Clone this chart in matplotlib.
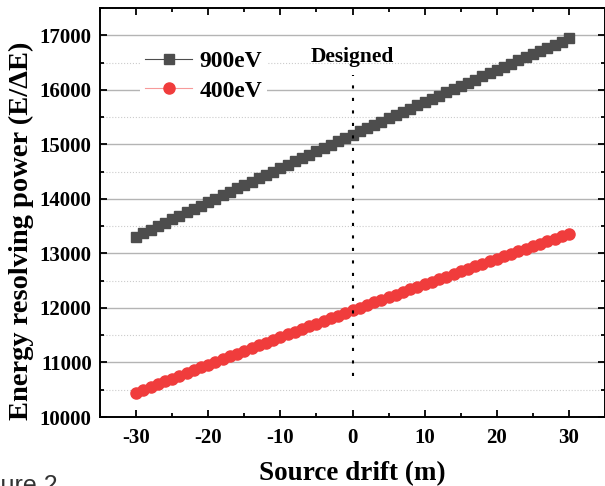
import matplotlib
matplotlib.use("Agg")
import matplotlib.pyplot as plt
from matplotlib.ticker import MultipleLocator

plt.rcParams['font.family'] = ['Liberation Serif', 'DejaVu Serif']
plt.rcParams['font.weight'] = 'bold'
plt.rcParams['axes.unicode_minus'] = False

drift = list(range(-30, 31))

power_900 = [13305, 13369, 13433, 13497, 13560, 13624, 13687, 13751, 13814, 13877,
             13940, 14003, 14065, 14128, 14191, 14253, 14315, 14377, 14439, 14501,
             14563, 14625, 14687, 14748, 14809, 14871, 14932, 14993, 15054, 15114,
             15175, 15236, 15296, 15356, 15417, 15477, 15537, 15596, 15656, 15716,
             15775, 15835, 15894, 15953, 16012, 16071, 16130, 16188, 16247, 16306,
             16364, 16422, 16480, 16538, 16596, 16654, 16711, 16769, 16826, 16884,
             16941]

power_400 = [10445, 10497, 10549, 10601, 10653, 10704, 10756, 10807, 10859, 10910,
             10961, 11012, 11062, 11113, 11163, 11214, 11264, 11314, 11364, 11414,
             11464, 11514, 11563, 11613, 11662, 11711, 11760, 11809, 11858, 11906,
             11955, 12003, 12052, 12100, 12148, 12196, 12244, 12292, 12339, 12387,
             12434, 12481, 12528, 12575, 12622, 12669, 12715, 12762, 12808, 12855,
             12901, 12947, 12993, 13038, 13084, 13129, 13175, 13220, 13265, 13310,
             13355]

labels = ['900eV', '400eV']
designed_x = 0
designed_span = (10750, 16280)

fig = plt.figure(figsize=(6.05, 4.86), dpi=100)
ax = fig.add_axes([100 / 605, 1 - 417 / 486, 505 / 605, 409 / 486])

ax.plot(drift, power_900, '-s', color='#4d4d4d', lw=0.8, ms=7, mec='#4d4d4d',
        label=labels[0], zorder=3)
# 400eV: light red line under red dots
ax.plot(drift, power_400, '-o', color='#f79a9a', mfc='#f03c3c', mec='#f03c3c',
        lw=0.8, ms=8, label=labels[1], zorder=3)

ax.vlines(designed_x, *designed_span, colors='black', lw=1.5,
          linestyles=(0, (1.5, 4.5)), zorder=4)
ax.text(designed_x, 16600, 'Designed', ha='center', va='center', fontsize=15.5,
        fontweight='bold')

ax.set_xlim(-35, 35)
ax.set_ylim(10000, 17500)
ax.xaxis.set_major_locator(MultipleLocator(10))
ax.xaxis.set_minor_locator(MultipleLocator(5))
ax.yaxis.set_minor_locator(MultipleLocator(500))
ax.set_yticks([10000, 11000, 12000, 13000, 14000, 15000, 16000, 17000])

ax.grid(axis='y', which='major', color='#b4b4b4', lw=1.0, zorder=0)
ax.grid(axis='y', which='minor', color='#cccccc', lw=0.8, ls=':', zorder=0)
ax.set_axisbelow(True)

ax.tick_params(which='both', direction='in', top=True, right=True, width=1.3,
               labelsize=15)
ax.tick_params(axis='x', pad=8)
ax.tick_params(axis='y', pad=6)
ax.tick_params(which='major', length=5)
ax.tick_params(which='minor', length=3)
for s in ax.spines.values():
    s.set_linewidth(1.4)

ax.set_xlabel('Source drift (m)', fontsize=19.5, fontweight='bold')
ax.xaxis.set_label_coords(0.5, -0.107)
ax.set_ylabel('Energy resolving power (E/ΔE)', fontsize=20.5, fontweight='bold')
ax.yaxis.set_label_coords(-0.131, 0.455)

leg = ax.legend(loc='upper left', bbox_to_anchor=(0.08, 0.908), borderaxespad=0,
                frameon=True, fontsize=17, handlelength=2.0, labelspacing=0.35,
                handletextpad=0.3, borderpad=0.2)
leg.get_frame().set_edgecolor('none')
leg.get_frame().set_facecolor('white')
leg.get_frame().set_alpha(1)

fig.text(58 / 605, 1 - 474 / 486, 'Figure 2', ha='right', va='top', fontsize=18,
         color='#333333', family='Liberation Sans', fontweight='normal')

fig.savefig('out.png', dpi=100)
